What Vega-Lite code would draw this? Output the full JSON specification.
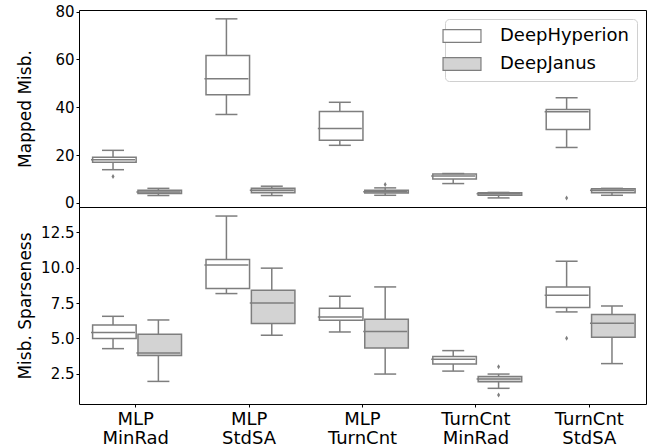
{
  "$schema": "https://vega.github.io/schema/vega-lite/v6.json",
  "autosize": {"type": "pad"},
  "padding": {"left": 15, "top": 4, "right": 5, "bottom": 2},
  "spacing": 0,
  "bounds": "flush",
  "datasets": {
    "top": [
      {"cat": "MLP MinRad", "method": "DeepHyperion", "lo": 13.9, "q1": 17.0, "med": 18.1, "q3": 19.1, "hi": 22.0},
      {"cat": "MLP MinRad", "method": "DeepJanus", "lo": 3.1, "q1": 3.9, "med": 4.6, "q3": 5.3, "hi": 6.1},
      {"cat": "MLP StdSA", "method": "DeepHyperion", "lo": 37.0, "q1": 45.2, "med": 51.9, "q3": 61.7, "hi": 77.0},
      {"cat": "MLP StdSA", "method": "DeepJanus", "lo": 3.1, "q1": 4.3, "med": 5.3, "q3": 6.1, "hi": 7.0},
      {"cat": "MLP TurnCnt", "method": "DeepHyperion", "lo": 24.1, "q1": 26.2, "med": 31.1, "q3": 38.2, "hi": 42.1},
      {"cat": "MLP TurnCnt", "method": "DeepJanus", "lo": 3.2, "q1": 4.2, "med": 4.7, "q3": 5.3, "hi": 6.3},
      {"cat": "TurnCnt MinRad", "method": "DeepHyperion", "lo": 8.1, "q1": 10.0, "med": 11.3, "q3": 12.1, "hi": 12.3},
      {"cat": "TurnCnt MinRad", "method": "DeepJanus", "lo": 2.1, "q1": 3.2, "med": 3.8, "q3": 4.3, "hi": 4.4},
      {"cat": "TurnCnt StdSA", "method": "DeepHyperion", "lo": 23.2, "q1": 30.7, "med": 38.1, "q3": 39.1, "hi": 44.0},
      {"cat": "TurnCnt StdSA", "method": "DeepJanus", "lo": 3.2, "q1": 4.3, "med": 5.3, "q3": 5.9, "hi": 6.1}
    ],
    "topOut": [
      {"cat": "MLP MinRad", "method": "DeepHyperion", "v": 11.1},
      {"cat": "MLP TurnCnt", "method": "DeepJanus", "v": 7.7},
      {"cat": "TurnCnt StdSA", "method": "DeepHyperion", "v": 2.1}
    ],
    "bot": [
      {"cat": "MLP MinRad", "method": "DeepHyperion", "lo": 4.27, "q1": 4.98, "med": 5.41, "q3": 5.95, "hi": 6.56},
      {"cat": "MLP MinRad", "method": "DeepJanus", "lo": 1.95, "q1": 3.78, "med": 3.96, "q3": 5.29, "hi": 6.30},
      {"cat": "MLP StdSA", "method": "DeepHyperion", "lo": 8.17, "q1": 8.53, "med": 10.20, "q3": 10.59, "hi": 13.66},
      {"cat": "MLP StdSA", "method": "DeepJanus", "lo": 5.22, "q1": 6.05, "med": 7.51, "q3": 8.41, "hi": 9.97},
      {"cat": "MLP TurnCnt", "method": "DeepHyperion", "lo": 5.45, "q1": 6.28, "med": 6.51, "q3": 7.13, "hi": 7.98},
      {"cat": "MLP TurnCnt", "method": "DeepJanus", "lo": 2.47, "q1": 4.32, "med": 5.48, "q3": 6.35, "hi": 8.64},
      {"cat": "TurnCnt MinRad", "method": "DeepHyperion", "lo": 2.68, "q1": 3.18, "med": 3.51, "q3": 3.71, "hi": 4.13},
      {"cat": "TurnCnt MinRad", "method": "DeepJanus", "lo": 1.46, "q1": 1.93, "med": 2.12, "q3": 2.29, "hi": 2.47},
      {"cat": "TurnCnt StdSA", "method": "DeepHyperion", "lo": 6.87, "q1": 7.18, "med": 8.05, "q3": 8.64, "hi": 10.46},
      {"cat": "TurnCnt StdSA", "method": "DeepJanus", "lo": 3.21, "q1": 5.07, "med": 6.07, "q3": 6.68, "hi": 7.29}
    ],
    "botOut": [
      {"cat": "TurnCnt MinRad", "method": "DeepJanus", "v": 2.99},
      {"cat": "TurnCnt MinRad", "method": "DeepJanus", "v": 0.98},
      {"cat": "TurnCnt StdSA", "method": "DeepHyperion", "v": 5.0}
    ]
  },
  "vconcat": [
    {
      "width": 567,
      "height": 197,
      "data": {"name": "top"},
      "encoding": {
        "x": {"field": "cat", "type": "nominal", "sort": null, "scale": {"paddingInner": 0, "paddingOuter": 0}, "axis": null},
        "xOffset": {"field": "method", "type": "nominal", "scale": {"paddingInner": 0, "paddingOuter": 0.25}}
      },
      "layer": [
        {
          "mark": {"type": "rule", "color": "#7e7e7e", "strokeWidth": 1.5},
          "encoding": {
            "y": {"field": "lo", "type": "quantitative", "scale": {"domain": [-1.7, 80.7], "nice": false, "zero": false},
                  "axis": {"title": "Mapped Misb.", "values": [0, 20, 40, 60, 80], "titleX": -54, "titleBaseline": "middle"}},
            "y2": {"field": "hi"}
          }
        },
        {
          "mark": {"type": "bar", "stroke": "#7e7e7e", "strokeWidth": 1.5, "width": {"band": 0.96}},
          "encoding": {
            "y": {"field": "q1", "type": "quantitative"},
            "y2": {"field": "q3"},
            "fill": {"field": "method", "type": "nominal",
                     "scale": {"domain": ["DeepHyperion", "DeepJanus"], "range": ["#ffffff", "#d3d3d3"]},
                     "legend": {"title": null, "orient": "top-right", "offset": 9,
                                "symbolType": "M-3,-1H3V1H-3Z", "symbolSize": 160,
                                "symbolStrokeColor": "#7e7e7e", "symbolStrokeWidth": 1.2, "symbolOpacity": 1,
                                "labelFontSize": 18, "labelColor": "black", "labelOffset": 29,
                                "padding": 8, "rowPadding": 10,
                                "fillColor": "white", "strokeColor": "#d0d0d0", "cornerRadius": 4}}
          }
        },
        {
          "mark": {"type": "tick", "color": "#7e7e7e", "thickness": 1.5, "size": 44, "opacity": 1},
          "encoding": {"y": {"field": "med", "type": "quantitative"}}
        },
        {
          "mark": {"type": "tick", "color": "#7e7e7e", "thickness": 1.5, "size": 22, "opacity": 1},
          "encoding": {"y": {"field": "lo", "type": "quantitative"}}
        },
        {
          "mark": {"type": "tick", "color": "#7e7e7e", "thickness": 1.5, "size": 22, "opacity": 1},
          "encoding": {"y": {"field": "hi", "type": "quantitative"}}
        },
        {
          "data": {"name": "topOut"},
          "mark": {"type": "point", "shape": "M0,-1L0.6,0L0,1L-0.6,0Z", "filled": true, "color": "#7e7e7e", "size": 25, "opacity": 1},
          "encoding": {"y": {"field": "v", "type": "quantitative"}}
        }
      ]
    },
    {
      "width": 567,
      "height": 197,
      "data": {"name": "bot"},
      "encoding": {
        "x": {"field": "cat", "type": "nominal", "sort": null, "scale": {"paddingInner": 0, "paddingOuter": 0},
              "axis": {"title": null, "labelAngle": 0, "labelExpr": "split(datum.label, ' ')", "labelFontSize": 18, "labelLineHeight": 19, "labelPadding": 3}},
        "xOffset": {"field": "method", "type": "nominal", "scale": {"paddingInner": 0, "paddingOuter": 0.25}}
      },
      "layer": [
        {
          "mark": {"type": "rule", "color": "#7e7e7e", "strokeWidth": 1.5},
          "encoding": {
            "y": {"field": "lo", "type": "quantitative", "scale": {"domain": [0.35, 14.3], "nice": false, "zero": false},
                  "axis": {"title": "Misb. Sparseness", "values": [2.5, 5, 7.5, 10, 12.5], "format": ".1f", "titleX": -54, "titleBaseline": "middle"}},
            "y2": {"field": "hi"}
          }
        },
        {
          "mark": {"type": "bar", "stroke": "#7e7e7e", "strokeWidth": 1.5, "width": {"band": 0.96}},
          "encoding": {
            "y": {"field": "q1", "type": "quantitative"},
            "y2": {"field": "q3"},
            "fill": {"field": "method", "type": "nominal",
                     "scale": {"domain": ["DeepHyperion", "DeepJanus"], "range": ["#ffffff", "#d3d3d3"]},
                     "legend": null}
          }
        },
        {
          "mark": {"type": "tick", "color": "#7e7e7e", "thickness": 1.5, "size": 44, "opacity": 1},
          "encoding": {"y": {"field": "med", "type": "quantitative"}}
        },
        {
          "mark": {"type": "tick", "color": "#7e7e7e", "thickness": 1.5, "size": 22, "opacity": 1},
          "encoding": {"y": {"field": "lo", "type": "quantitative"}}
        },
        {
          "mark": {"type": "tick", "color": "#7e7e7e", "thickness": 1.5, "size": 22, "opacity": 1},
          "encoding": {"y": {"field": "hi", "type": "quantitative"}}
        },
        {
          "data": {"name": "botOut"},
          "mark": {"type": "point", "shape": "M0,-1L0.6,0L0,1L-0.6,0Z", "filled": true, "color": "#7e7e7e", "size": 25, "opacity": 1},
          "encoding": {"y": {"field": "v", "type": "quantitative"}}
        }
      ]
    }
  ],
  "resolve": {"scale": {"y": "independent", "fill": "independent"}, "legend": {"fill": "independent"}},
  "config": {
    "font": "DejaVu Sans",
    "view": {"stroke": "black", "strokeWidth": 1},
    "concat": {"spacing": 0},
    "axis": {"domain": false, "grid": false, "tickColor": "black", "tickSize": 3, "tickWidth": 1, "labelPadding": 2,
             "labelColor": "black", "labelFontSize": 15, "titleColor": "black", "titleFontSize": 17, "titleFontWeight": "normal"}
  }
}
